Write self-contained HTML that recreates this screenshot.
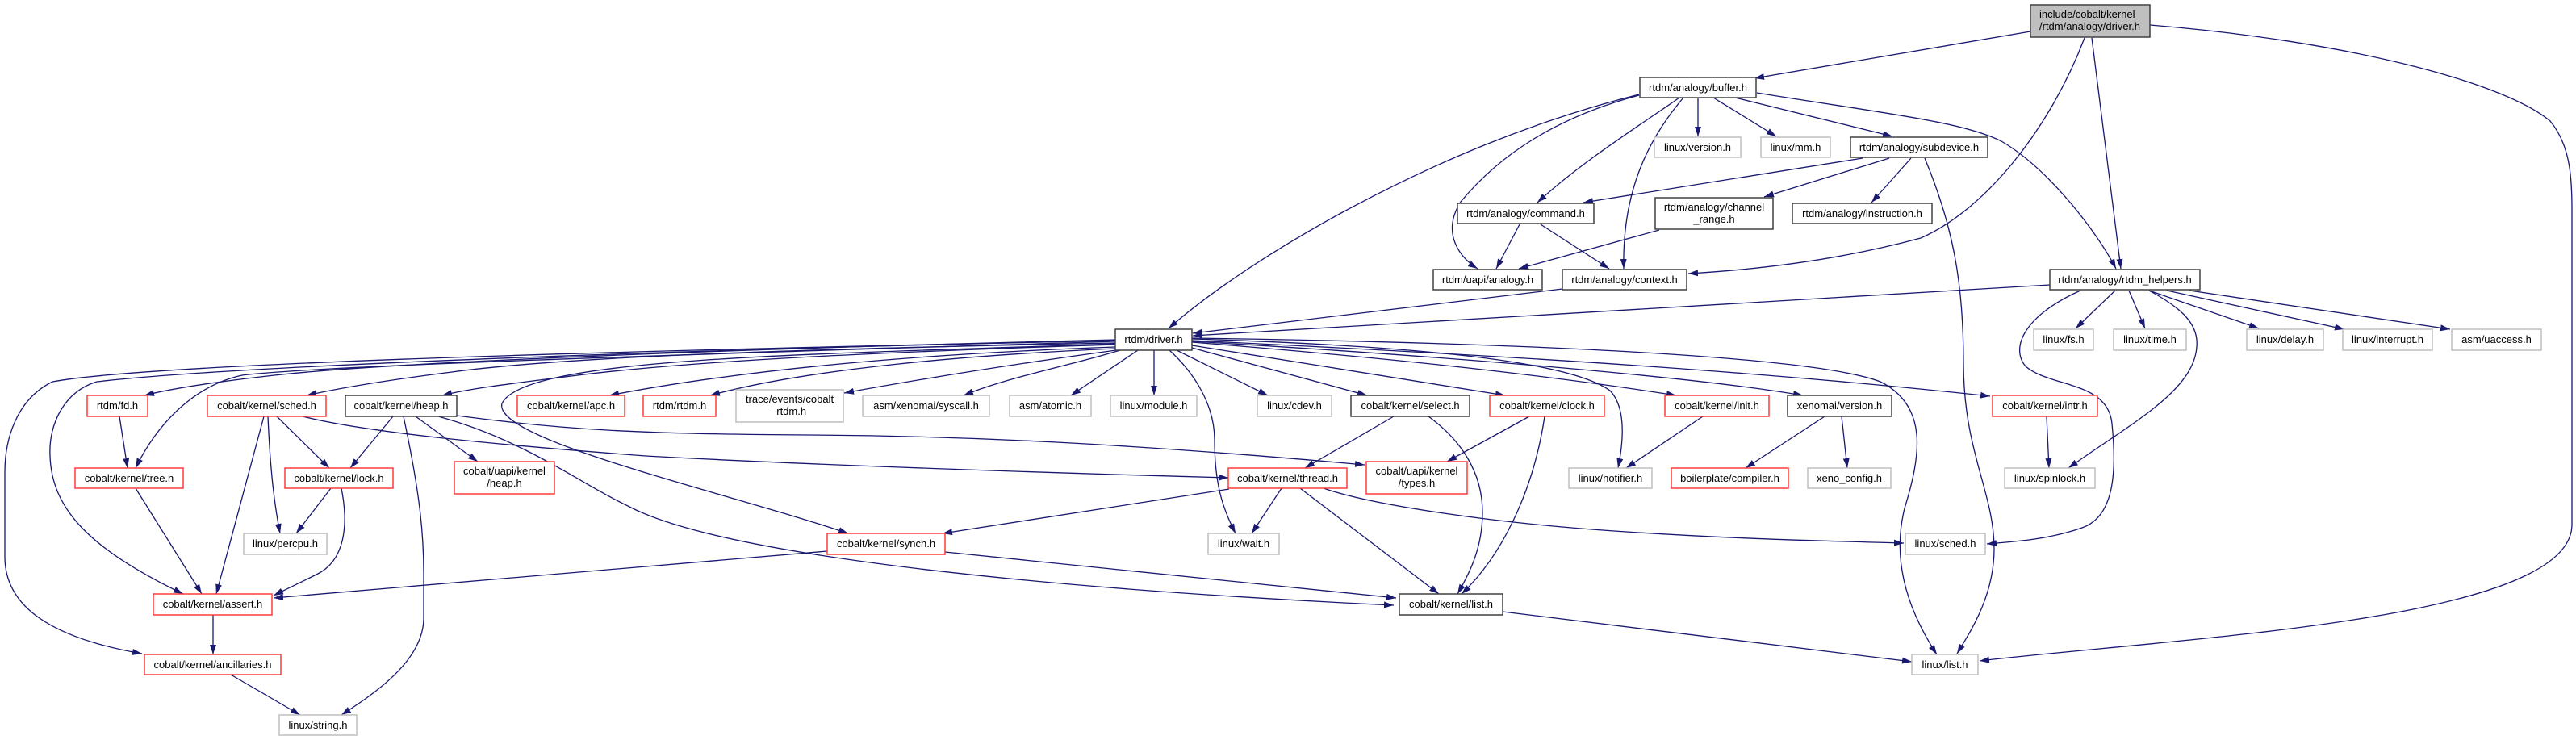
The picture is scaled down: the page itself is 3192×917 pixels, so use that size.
<!DOCTYPE html>
<html>
<head>
<meta charset="utf-8">
<style>
  html,body{margin:0;padding:0;background:#fff;}
  svg{display:block;}
  text{font-family:"Liberation Sans",Arial,sans-serif;font-size:13px;fill:#000;}
  .e{fill:none;stroke:#191970;stroke-width:1.3;marker-end:url(#a);}
  .nb{fill:#fff;stroke:#404040;stroke-width:1.5;}
  .nr{fill:#fff;stroke:#ff3b3b;stroke-width:1.5;}
  .ng{fill:#fff;stroke:#bfbfbf;stroke-width:1.5;}
  .root{fill:#bfbfbf;stroke:#404040;stroke-width:1.5;}
</style>
</head>
<body>
<svg width="3192" height="917" viewBox="0 0 3192 917" xmlns="http://www.w3.org/2000/svg">
<defs>
  <marker id="a" markerWidth="12" markerHeight="8" refX="12" refY="4" orient="auto" markerUnits="userSpaceOnUse">
    <path d="M0,0 L12,4 L0,8 z" fill="#191970"/>
  </marker>
</defs>
<rect x="0" y="0" width="3192" height="917" fill="#fff"/>

<!-- edges -->
<g>
<path class="e" d="M2516,39 L2174,97"/>
<path class="e" d="M2583,47 C2540,160 2460,260 2380,295 C2280,322 2180,334 2092,339"/>
<path class="e" d="M2592,47 L2628,333"/>
<path class="e" d="M2664,31 C2900,50 3100,100 3160,150 C3185,180 3187,220 3187,260 L3187,650 C3187,770 2700,790 2453,819"/>
<path class="e" d="M2031,117 C1900,150 1780,200 1660,265 C1560,320 1490,370 1448,407"/>
<path class="e" d="M2031,118 C1930,145 1860,190 1810,250 C1785,290 1810,320 1831,333"/>
<path class="e" d="M2081,121 C2040,150 1960,200 1905,251"/>
<path class="e" d="M2086,121 C2040,175 2010,240 2012,333"/>
<path class="e" d="M2104,121 L2104,169"/>
<path class="e" d="M2123,121 L2201,169"/>
<path class="e" d="M2150,121 L2345,169"/>
<path class="e" d="M2177,115 C2330,140 2430,150 2480,175 C2540,210 2600,290 2622,333"/>
<path class="e" d="M2308,196 L1962,251"/>
<path class="e" d="M2341,196 L2186,244"/>
<path class="e" d="M2368,196 L2319,251"/>
<path class="e" d="M2385,196 C2420,280 2433,350 2433,450 C2433,560 2471,610 2471,680 C2471,740 2440,785 2425,810"/>
<path class="e" d="M1883,278 L1854,333"/>
<path class="e" d="M1909,278 L1994,333"/>
<path class="e" d="M2056,285 L1882,333"/>
<path class="e" d="M1936,358 L1478,413"/>
<path class="e" d="M2540,353 L1478,416"/>
<path class="e" d="M2621,360 L2572,407"/>
<path class="e" d="M2638,360 L2658,407"/>
<path class="e" d="M2663,360 L2799,407"/>
<path class="e" d="M2685,360 L2905,408"/>
<path class="e" d="M2713,360 L3036,408"/>
<path class="e" d="M2663,360 C2700,380 2725,400 2722,430 C2718,485 2640,525 2563,580"/>
<path class="e" d="M2578,360 C2510,390 2490,430 2510,454 C2540,480 2612,472 2617,525 C2623,585 2620,640 2580,654 C2540,668 2500,671 2462,674"/>

<path class="e" d="M1382,421 C1000,430 500,447 340,465 C260,474 210,482 179,490"/>
<path class="e" d="M1382,423 C1000,435 400,452 300,465 C240,478 195,525 168,580"/>
<path class="e" d="M1382,422 C900,432 300,452 120,473 C80,485 60,525 62,565 C64,630 110,680 227,736"/>
<path class="e" d="M1382,422 C900,432 200,448 65,473 C20,495 6,545 6,585 L6,690 C6,750 60,790 176,810"/>
<path class="e" d="M1382,425 C1000,432 700,442 560,461 C480,471 420,481 380,490"/>
<path class="e" d="M1382,427 C1100,436 850,447 700,467 C620,477 580,482 548,490"/>
<path class="e" d="M1382,430 C1100,440 900,462 755,490"/>
<path class="e" d="M1382,432 C1200,440 1000,457 880,490"/>
<path class="e" d="M1383,434 C1250,452 1150,468 1046,487"/>
<path class="e" d="M1388,434 C1330,452 1250,467 1194,490"/>
<path class="e" d="M1410,434 L1327,490"/>
<path class="e" d="M1430,434 L1430,490"/>
<path class="e" d="M1458,434 L1571,490"/>
<path class="e" d="M1477,431 L1694,490"/>
<path class="e" d="M1477,428 C1600,447 1750,472 1865,490"/>
<path class="e" d="M1477,424 C1700,442 1900,462 2077,490"/>
<path class="e" d="M1477,423 C1800,442 2100,467 2234,490"/>
<path class="e" d="M1477,422 C1900,442 2200,462 2466,491"/>
<path class="e" d="M1477,420 C1800,430 1950,452 1995,484 C2015,505 2012,545 2005,580"/>
<path class="e" d="M1477,419 C1900,425 2250,442 2330,473 C2390,503 2380,565 2360,630 C2345,690 2360,750 2400,811"/>
<path class="e" d="M1449,434 C1480,462 1505,502 1505,545 C1505,600 1515,630 1531,661"/>
<path class="e" d="M1382,426 C1000,440 650,442 622,500 C610,545 900,610 1051,661"/>

<path class="e" d="M487,516 L434,580"/>
<path class="e" d="M515,516 L592,572"/>
<path class="e" d="M500,516 C520,610 525,660 525,710 L525,766 C525,820 460,862 423,886"/>
<path class="e" d="M566,515 C700,533 800,538 1000,539 C1200,540 1400,550 1691,576"/>
<path class="e" d="M543,516 C650,545 720,600 780,628 C900,690 1300,730 1727,750"/>
<path class="e" d="M327,516 L268,736"/>
<path class="e" d="M332,516 C335,585 340,625 347,661"/>
<path class="e" d="M343,516 L408,580"/>
<path class="e" d="M375,516 C450,535 600,550 800,565 C1000,576 1300,586 1522,592"/>
<path class="e" d="M148,516 L158,580"/>
<path class="e" d="M168,605 L250,736"/>
<path class="e" d="M410,605 L367,661"/>
<path class="e" d="M423,605 C432,650 428,695 392,712 C372,722 355,730 339,738"/>
<path class="e" d="M264,762 L264,811"/>
<path class="e" d="M286,836 L372,886"/>
<path class="e" d="M1025,683 L339,741"/>
<path class="e" d="M1171,684 L1730,741"/>
<path class="e" d="M1523,606 L1168,661"/>
<path class="e" d="M1588,605 L1551,661"/>
<path class="e" d="M1611,605 L1783,736"/>
<path class="e" d="M1640,605 C1700,626 1850,648 2000,658 C2150,668 2250,670 2359,673"/>
<path class="e" d="M1727,516 L1617,580"/>
<path class="e" d="M1770,516 C1810,545 1837,585 1837,635 C1837,680 1820,712 1806,736"/>
<path class="e" d="M1895,516 L1793,572"/>
<path class="e" d="M1914,516 C1900,610 1860,690 1811,736"/>
<path class="e" d="M2110,516 L2015,580"/>
<path class="e" d="M2261,516 L2163,580"/>
<path class="e" d="M2282,516 L2289,580"/>
<path class="e" d="M2536,516 L2539,580"/>
<path class="e" d="M1862,758 L2369,820"/>
</g>

<!-- nodes -->
<g>
<rect class="root" x="2516" y="6" width="148" height="40"/>
<text x="2527" y="22">include/cobalt/kernel</text>
<text x="2527" y="37">/rtdm/analogy/driver.h</text>

<rect class="nb" x="2032" y="96" width="144" height="25"/>
<text x="2104" y="113" text-anchor="middle">rtdm/analogy/buffer.h</text>

<rect class="ng" x="2050" y="170" width="107" height="25"/>
<text x="2103.5" y="187" text-anchor="middle">linux/version.h</text>
<rect class="ng" x="2182" y="170" width="86" height="25"/>
<text x="2225" y="187" text-anchor="middle">linux/mm.h</text>
<rect class="nb" x="2293" y="170" width="170" height="25"/>
<text x="2378" y="187" text-anchor="middle">rtdm/analogy/subdevice.h</text>

<rect class="nb" x="1806" y="252" width="169" height="25"/>
<text x="1890.5" y="269" text-anchor="middle">rtdm/analogy/command.h</text>
<rect class="nb" x="2051" y="245" width="146" height="39"/>
<text x="2124" y="261" text-anchor="middle">rtdm/analogy/channel</text>
<text x="2124" y="276" text-anchor="middle">_range.h</text>
<rect class="nb" x="2221" y="252" width="173" height="25"/>
<text x="2307.5" y="269" text-anchor="middle">rtdm/analogy/instruction.h</text>

<rect class="nb" x="1776" y="334" width="135" height="25"/>
<text x="1843.5" y="351" text-anchor="middle">rtdm/uapi/analogy.h</text>
<rect class="nb" x="1936" y="334" width="154" height="25"/>
<text x="2013" y="351" text-anchor="middle">rtdm/analogy/context.h</text>
<rect class="nb" x="2540" y="334" width="186" height="25"/>
<text x="2633" y="351" text-anchor="middle">rtdm/analogy/rtdm_helpers.h</text>

<rect class="nb" x="1382" y="408" width="95" height="26"/>
<text x="1429.5" y="425" text-anchor="middle">rtdm/driver.h</text>
<rect class="ng" x="2520" y="408" width="74" height="26"/>
<text x="2557" y="425" text-anchor="middle">linux/fs.h</text>
<rect class="ng" x="2619" y="408" width="90" height="26"/>
<text x="2664" y="425" text-anchor="middle">linux/time.h</text>
<rect class="ng" x="2784" y="408" width="95" height="26"/>
<text x="2831.5" y="425" text-anchor="middle">linux/delay.h</text>
<rect class="ng" x="2903" y="408" width="111" height="26"/>
<text x="2958.5" y="425" text-anchor="middle">linux/interrupt.h</text>
<rect class="ng" x="3038" y="408" width="111" height="26"/>
<text x="3093.5" y="425" text-anchor="middle">asm/uaccess.h</text>

<rect class="nr" x="108" y="490" width="75" height="26"/>
<text x="145.5" y="507" text-anchor="middle">rtdm/fd.h</text>
<rect class="nr" x="257" y="490" width="147" height="26"/>
<text x="330.5" y="507" text-anchor="middle">cobalt/kernel/sched.h</text>
<rect class="nb" x="428" y="490" width="138" height="26"/>
<text x="497" y="507" text-anchor="middle">cobalt/kernel/heap.h</text>
<rect class="nr" x="641" y="490" width="133" height="26"/>
<text x="707.5" y="507" text-anchor="middle">cobalt/kernel/apc.h</text>
<rect class="nr" x="797" y="490" width="90" height="26"/>
<text x="842" y="507" text-anchor="middle">rtdm/rtdm.h</text>
<rect class="ng" x="912" y="483" width="133" height="40"/>
<text x="978.5" y="499" text-anchor="middle">trace/events/cobalt</text>
<text x="978.5" y="514" text-anchor="middle">-rtdm.h</text>
<rect class="ng" x="1069" y="490" width="157" height="26"/>
<text x="1147.5" y="507" text-anchor="middle">asm/xenomai/syscall.h</text>
<rect class="ng" x="1251" y="490" width="101" height="26"/>
<text x="1301.5" y="507" text-anchor="middle">asm/atomic.h</text>
<rect class="ng" x="1376" y="490" width="107" height="26"/>
<text x="1429.5" y="507" text-anchor="middle">linux/module.h</text>
<rect class="ng" x="1558" y="490" width="92" height="26"/>
<text x="1604" y="507" text-anchor="middle">linux/cdev.h</text>
<rect class="nb" x="1674" y="490" width="147" height="26"/>
<text x="1747.5" y="507" text-anchor="middle">cobalt/kernel/select.h</text>
<rect class="nr" x="1846" y="490" width="142" height="26"/>
<text x="1917" y="507" text-anchor="middle">cobalt/kernel/clock.h</text>
<rect class="nr" x="2063" y="490" width="129" height="26"/>
<text x="2127.5" y="507" text-anchor="middle">cobalt/kernel/init.h</text>
<rect class="nb" x="2215" y="490" width="129" height="26"/>
<text x="2279.5" y="507" text-anchor="middle">xenomai/version.h</text>
<rect class="nr" x="2469" y="490" width="130" height="26"/>
<text x="2534" y="507" text-anchor="middle">cobalt/kernel/intr.h</text>

<rect class="nr" x="93" y="580" width="134" height="25"/>
<text x="160" y="597" text-anchor="middle">cobalt/kernel/tree.h</text>
<rect class="nr" x="353" y="580" width="134" height="25"/>
<text x="420" y="597" text-anchor="middle">cobalt/kernel/lock.h</text>
<rect class="nr" x="563" y="572" width="124" height="40"/>
<text x="625" y="588" text-anchor="middle">cobalt/uapi/kernel</text>
<text x="625" y="603" text-anchor="middle">/heap.h</text>
<rect class="nr" x="1522" y="580" width="147" height="25"/>
<text x="1595.5" y="597" text-anchor="middle">cobalt/kernel/thread.h</text>
<rect class="nr" x="1693" y="572" width="125" height="40"/>
<text x="1755.5" y="588" text-anchor="middle">cobalt/uapi/kernel</text>
<text x="1755.5" y="603" text-anchor="middle">/types.h</text>
<rect class="ng" x="1944" y="580" width="103" height="25"/>
<text x="1995.5" y="597" text-anchor="middle">linux/notifier.h</text>
<rect class="nr" x="2071" y="580" width="145" height="25"/>
<text x="2143.5" y="597" text-anchor="middle">boilerplate/compiler.h</text>
<rect class="ng" x="2240" y="580" width="103" height="25"/>
<text x="2291.5" y="597" text-anchor="middle">xeno_config.h</text>
<rect class="ng" x="2484" y="580" width="112" height="25"/>
<text x="2540" y="597" text-anchor="middle">linux/spinlock.h</text>

<rect class="ng" x="302" y="661" width="103" height="26"/>
<text x="353.5" y="678" text-anchor="middle">linux/percpu.h</text>
<rect class="nr" x="1025" y="661" width="146" height="26"/>
<text x="1098" y="678" text-anchor="middle">cobalt/kernel/synch.h</text>
<rect class="ng" x="1497" y="661" width="88" height="26"/>
<text x="1541" y="678" text-anchor="middle">linux/wait.h</text>
<rect class="ng" x="2361" y="661" width="99" height="26"/>
<text x="2410.5" y="678" text-anchor="middle">linux/sched.h</text>

<rect class="nr" x="190" y="736" width="147" height="26"/>
<text x="263.5" y="753" text-anchor="middle">cobalt/kernel/assert.h</text>
<rect class="nb" x="1734" y="736" width="128" height="26"/>
<text x="1798" y="753" text-anchor="middle">cobalt/kernel/list.h</text>

<rect class="nr" x="179" y="811" width="169" height="25"/>
<text x="263.5" y="828" text-anchor="middle">cobalt/kernel/ancillaries.h</text>
<rect class="ng" x="2369" y="811" width="82" height="25"/>
<text x="2410" y="828" text-anchor="middle">linux/list.h</text>

<rect class="ng" x="346" y="886" width="96" height="25"/>
<text x="394" y="903" text-anchor="middle">linux/string.h</text>
</g>
</svg>
</body>
</html>
